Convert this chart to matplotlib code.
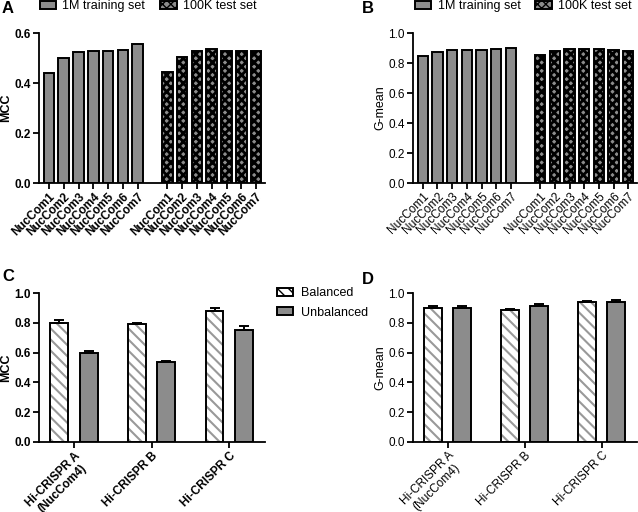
import matplotlib
matplotlib.use("Agg")
import matplotlib.pyplot as plt
import numpy as np
from matplotlib.patches import Patch

plt.rcParams['font.family'] = ['Liberation Sans', 'DejaVu Sans']

# data
nuc_labels = ["NucCom1", "NucCom2", "NucCom3", "NucCom4", "NucCom5", "NucCom6", "NucCom7"]
mcc_train = [0.440, 0.499, 0.524, 0.529, 0.527, 0.532, 0.558]
mcc_test = [0.444, 0.504, 0.528, 0.536, 0.528, 0.528, 0.529]
gm_train = [0.849, 0.875, 0.889, 0.889, 0.889, 0.893, 0.900]
gm_test = [0.855, 0.880, 0.891, 0.895, 0.891, 0.886, 0.882]

hi_labels = ["Hi-CRISPR A\n(NucCom4)", "Hi-CRISPR B", "Hi-CRISPR C"]
mcc_bal = [0.801, 0.794, 0.879]
mcc_bal_err = [0.015, 0.005, 0.018]
mcc_unbal = [0.595, 0.535, 0.752]
mcc_unbal_err = [0.018, 0.010, 0.027]
gm_bal = [0.901, 0.888, 0.940]
gm_bal_err = [0.009, 0.007, 0.009]
gm_unbal = [0.901, 0.913, 0.937]
gm_unbal_err = [0.011, 0.011, 0.018]

GRAY = "#8c8c8c"
STRIPE = "\\\\\\"
CHECK = "xxxx"
fig = plt.figure(figsize=(6.38, 5.12), dpi=100)

W, H = 638, 512
def add_ax(x0, x1, ytop, ybot):
    return fig.add_axes([x0 / W, 1 - ybot / H, (x1 - x0) / W, (ybot - ytop) / H])

axA = add_ax(39, 265, 33, 183)
axB = add_ax(413, 637, 33, 183)
axC = add_ax(39, 265, 293, 442)
axD = add_ax(413, 637, 293, 442)


def style(ax, bold, ylabel, label_px):
    for s in ["top", "right"]:
        ax.spines[s].set_visible(False)
    for s in ["left", "bottom"]:
        ax.spines[s].set_linewidth(1.3)
    ax.tick_params(width=1.3, length=4, pad=2)
    ax.tick_params(axis="x", pad=1.5)
    ax.tick_params(axis="y", labelsize=8.5)
    ax.yaxis.set_major_formatter(matplotlib.ticker.FormatStrFormatter("%.1f"))
    w = ax.get_position().width * W
    ax.set_ylabel(ylabel, fontsize=9, fontweight="bold" if bold else "normal")
    ax.yaxis.set_label_coords(label_px / w, 0.5)
    if bold:
        for lab in ax.get_yticklabels() + ax.get_xticklabels():
            lab.set_fontweight("bold")


def nuc_panel(ax, train, test, ylim, yticks, ylabel, bold):
    x1 = np.arange(7)
    x2 = np.arange(7) + 8
    ax.bar(x1, train, width=0.72, color=GRAY, edgecolor="black", linewidth=1.4)
    with plt.rc_context({"hatch.linewidth": 2.0}):
        ax.bar(x2, test, width=0.72, color=GRAY, edgecolor="black", linewidth=1.4, hatch=CHECK)
    ax.set_xlim(-0.67, 14.6)
    ax.set_ylim(*ylim)
    ax.set_yticks(yticks)
    ax.set_xticks(np.concatenate([x1, x2]))
    ax.set_xticklabels(nuc_labels + nuc_labels, rotation=45, ha="right",
                       rotation_mode="anchor", fontsize=8.5)
    style(ax, bold, ylabel, -27)


def hi_panel(ax, bal, bal_err, unbal, unbal_err, ylabel, bold):
    x = np.arange(3)
    off, w = 0.19, 0.23
    ekw = dict(elinewidth=1.4, capthick=1.4)
    # stripes in gray, outline in black
    with plt.rc_context({"hatch.linewidth": 1.5}):
        ax.bar(x - off, bal, width=w, color="white", edgecolor="#999999", linewidth=0, hatch=STRIPE)
    ax.bar(x - off, bal, width=w, color="none", edgecolor="black", linewidth=1.4,
           yerr=[np.zeros(3), bal_err], capsize=3.5, error_kw=ekw)
    ax.bar(x + off, unbal, width=w, color=GRAY, edgecolor="black", linewidth=1.4,
           yerr=[np.zeros(3), unbal_err], capsize=3.5, error_kw=ekw)
    ax.set_xlim(-0.45, 2.46)
    ax.set_ylim(0, 1.0)
    ax.set_yticks([0, 0.2, 0.4, 0.6, 0.8, 1.0])
    ax.set_xticks(x)
    ax.set_xticklabels(hi_labels, rotation=45, ha="right", rotation_mode="anchor",
                       multialignment="center", fontsize=8.5, linespacing=1.1)
    style(ax, bold, ylabel, -27)


nuc_panel(axA, mcc_train, mcc_test, (0, 0.6), [0, 0.2, 0.4, 0.6], "MCC", True)
nuc_panel(axB, gm_train, gm_test, (0, 1.0), [0, 0.2, 0.4, 0.6, 0.8, 1.0], "G-mean", False)
hi_panel(axC, mcc_bal, mcc_bal_err, mcc_unbal, mcc_unbal_err, "MCC", True)
hi_panel(axD, gm_bal, gm_bal_err, gm_unbal, gm_unbal_err, "G-mean", False)

# legends
with plt.rc_context({"hatch.linewidth": 2.0}):
    top_handles = [Patch(facecolor=GRAY, edgecolor="black", linewidth=1.4),
                   Patch(facecolor=GRAY, edgecolor="black", linewidth=1.4, hatch=CHECK)]
top_labels = ["1M training set", "100K test set"]
for x0 in [40, 415]:
    fig.legend(top_handles, top_labels, ncol=2, loc="center left",
               bbox_to_anchor=(x0 / W, 1 - 6 / H), frameon=False, fontsize=9,
               handlelength=1.3, handleheight=0.6, columnspacing=1.2, handletextpad=0.5,
               borderpad=0, borderaxespad=0)

with plt.rc_context({"hatch.linewidth": 1.5}):
    bal_handles = [Patch(facecolor="white", edgecolor="black", linewidth=1.4, hatch=STRIPE),
                   Patch(facecolor=GRAY, edgecolor="black", linewidth=1.4)]
fig.legend(bal_handles, ["Balanced", "Unbalanced"], loc="upper left",
           bbox_to_anchor=(277 / W, 1 - 287 / H), frameon=False, fontsize=9,
           handlelength=1.3, handleheight=0.6, handletextpad=0.6, labelspacing=0.6,
           borderpad=0, borderaxespad=0)

for lab, x, y in [("A", 2, 1), ("B", 362, 1), ("C", 2, 269), ("D", 362, 272)]:
    fig.text(x / W, 1 - y / H, lab, fontsize=12, fontweight="bold", ha="left", va="top")

fig.savefig("out.png", dpi=100)
